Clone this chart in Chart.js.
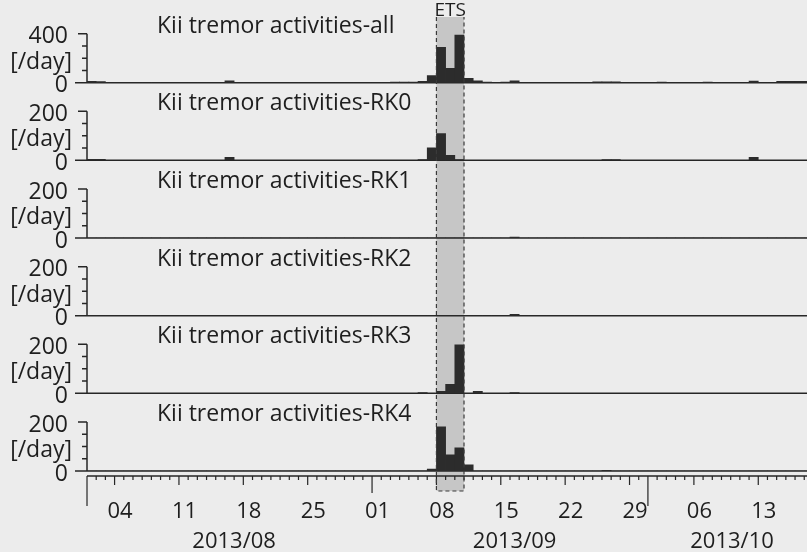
<!DOCTYPE html>
<html>
<head>
<meta charset="utf-8">
<title>Kii tremor activities</title>
<script src="https://cdn.jsdelivr.net/npm/chart.js@4.4.1/dist/chart.umd.min.js"></script>
<style>
  html, body { margin: 0; padding: 0; background: #ececec; }
  #wrap { width: 807px; height: 552px; }
</style>
</head>
<body>
<div id="wrap"><canvas id="tremorChart" width="807" height="552"></canvas></div>
<script>
// Daily tremor counts per region, index 0 = 2013-08-01
const panelTitles = [
  'Kii tremor activities-all',
  'Kii tremor activities-RK0',
  'Kii tremor activities-RK1',
  'Kii tremor activities-RK2',
  'Kii tremor activities-RK3',
  'Kii tremor activities-RK4'
];
const panelTops = [400, 200, 200, 200, 200, 200];

const countsAll = [
  10, 8, 0, 0, 0, 0, 0, 0, 0, 0, 0, 0, 0, 0, 0, 15, 0, 0, 0, 0,
  0, 0, 0, 0, 0, 0, 0, 0, 0, 0, 0, 0, 0, 4, 4, 5, 10, 57, 288, 117,
  389, 35, 15, 5, 0, 5, 14, 0, 0, 0, 0, 0, 0, 0, 0, 6, 6, 6, 0, 0,
  0, 0, 5, 0, 0, 0, 0, 5, 0, 0, 0, 0, 12, 0, 0, 10, 10, 10, 10
];
const countsRK0 = [
  4, 4, 0, 0, 0, 0, 0, 0, 0, 0, 0, 0, 0, 0, 0, 12, 0, 0, 0, 0,
  0, 0, 0, 0, 0, 0, 0, 0, 0, 0, 0, 0, 0, 0, 0, 0, 3, 51, 109, 20,
  3, 0, 0, 0, 0, 0, 0, 0, 0, 0, 0, 0, 0, 0, 0, 0, 3, 3, 0, 0,
  0, 0, 0, 0, 0, 0, 0, 0, 0, 0, 0, 0, 12, 0, 0, 0, 0, 0, 0
];
const countsRK1 = [
  0, 0, 0, 0, 0, 0, 0, 0, 0, 0, 0, 0, 0, 0, 0, 0, 0, 0, 0, 0,
  0, 0, 0, 0, 0, 0, 0, 0, 0, 0, 0, 0, 0, 0, 0, 0, 0, 0, 0, 0,
  0, 0, 0, 0, 0, 0, 4, 0, 0, 0, 0, 0, 0, 0, 0, 0, 0, 0, 0, 0,
  0, 0, 0, 0, 0, 0, 0, 0, 0, 0, 0, 0, 0, 0, 0, 0, 0, 0, 0
];
const countsRK2 = [
  0, 0, 0, 0, 0, 0, 0, 0, 0, 0, 0, 0, 0, 0, 0, 0, 0, 0, 0, 0,
  0, 0, 0, 0, 0, 0, 0, 0, 0, 0, 0, 0, 0, 0, 0, 0, 0, 0, 0, 0,
  0, 0, 0, 0, 0, 0, 5, 0, 0, 0, 0, 0, 0, 0, 0, 0, 0, 0, 0, 0,
  0, 0, 0, 0, 0, 0, 0, 0, 0, 0, 0, 0, 0, 0, 0, 0, 0, 0, 0
];
const countsRK3 = [
  0, 0, 0, 0, 0, 0, 0, 0, 0, 0, 0, 0, 0, 0, 0, 0, 0, 0, 0, 0,
  0, 0, 0, 0, 0, 0, 0, 0, 0, 0, 0, 0, 0, 0, 0, 0, 3, 0, 8, 37,
  198, 0, 8, 0, 0, 0, 3, 0, 0, 0, 0, 0, 0, 0, 0, 0, 0, 0, 0, 0,
  0, 0, 0, 0, 0, 0, 0, 0, 0, 0, 0, 0, 0, 0, 0, 0, 0, 0, 0
];
const countsRK4 = [
  0, 0, 0, 0, 0, 0, 0, 0, 0, 0, 0, 0, 0, 0, 0, 0, 0, 0, 0, 0,
  0, 0, 0, 0, 0, 0, 0, 0, 0, 0, 0, 0, 0, 0, 0, 0, 0, 8, 180, 66,
  95, 25, 0, 0, 0, 0, 0, 0, 0, 0, 0, 0, 0, 0, 0, 0, 3, 0, 0, 0,
  0, 0, 0, 0, 0, 0, 0, 0, 0, 0, 0, 0, 0, 0, 0, 0, 0, 0, 0
];
const panelSeries = [countsAll, countsRK0, countsRK1, countsRK2, countsRK3, countsRK4];

// x axis: Sundays get a day-of-month label, months get a long tick
const weekTickDays = [3, 10, 17, 24, 31, 38, 45, 52, 59, 66, 73];
const weekTickLabels = ['04', '11', '18', '25', '01', '08', '15', '22', '29', '06', '13'];
const monthStartDays = [0, 31, 61];
const monthLabels = ['2013/08', '2013/09', '2013/10'];
const etsDays = [38, 41];

const X_MAX = 78.3;
const PANEL_AREA = 466;          // height of the six stacked panels
const PANEL_H = PANEL_AREA / 6;
const TICK_SPAN = 49;            // px from 0 to the top tick of a panel

const PAPER = '#ececec';
const SHADE = '#c6c6c6';
const INK = '#1e1e1e';
const BAR = '#2c2c2c';
const FONT = "'Open Sans', sans-serif";

Chart.defaults.font.family = FONT;
Chart.defaults.color = INK;

function noPadding(s) {
  s.paddingTop = 0;
  s.paddingBottom = 0;
  s.paddingLeft = 0;
  s.paddingRight = 0;
}

const scales = {
  x: {
    type: 'linear',
    position: 'bottom',
    offset: false,
    min: 0,
    max: X_MAX,
    grid: { display: false, offset: false },
    border: { display: false },
    afterBuildTicks: s => { s.ticks = weekTickDays.map(d => ({ value: d + 0.6 })); },
    ticks: {
      autoSkip: false,
      maxRotation: 0,
      padding: 20,
      font: { size: 22 },
      color: INK,
      callback: (v, i) => weekTickLabels[i]
    },
    afterFit: s => {
      s.height = 552 - 5 - PANEL_AREA;
      noPadding(s);
    }
  }
};

// left boxes are stacked last-to-first, so add the bottom panel first
for (let i = panelTops.length - 1; i >= 0; i--) {
  const top = panelTops[i];
  scales['y' + i] = {
    type: 'linear',
    position: 'left',
    stack: 'panels',
    stackWeight: 1,
    min: 0,
    max: top * PANEL_H / TICK_SPAN,
    grid: { display: false },
    border: { display: false },
    afterBuildTicks: s => { s.ticks = [0, 1, 2, 3, 4].map(k => ({ value: top * k / 4 })); },
    ticks: {
      autoSkip: false,
      padding: 11,
      labelOffset: 3,
      font: { size: 23 },
      color: INK,
      callback: v => (v === 0 || v === top) ? String(v) : ''
    },
    afterFit: s => {
      s.width = 87;
      noPadding(s);
    }
  };
}

function yScales(chart) {
  return panelTops.map((t, i) => chart.scales['y' + i]);
}

const panelDecor = {
  id: 'panelDecor',
  beforeDraw(chart) {
    const { ctx, width, height } = chart;
    const x = chart.scales.x;
    ctx.save();
    ctx.fillStyle = PAPER;
    ctx.fillRect(0, 0, width, height);
    // ETS window
    const x0 = x.getPixelForValue(etsDays[0]);
    const x1 = x.getPixelForValue(etsDays[1]);
    ctx.fillStyle = SHADE;
    ctx.fillRect(x0, 17, x1 - x0, 474);
    ctx.restore();
  },
  beforeDatasetsDraw(chart) {
    const { ctx, chartArea } = chart;
    const x = chart.scales.x;
    const left = chartArea.left;
    ctx.save();
    ctx.strokeStyle = '#262626';
    ctx.lineWidth = 1.5;

    yScales(chart).forEach((ys, i) => {
      const top = panelTops[i];
      const y0 = ys.getPixelForValue(0);
      const yTop = ys.getPixelForValue(top);
      ctx.beginPath();
      // baseline
      ctx.moveTo(left - 12, y0);
      ctx.lineTo(chartArea.right, y0);
      // vertical axis
      ctx.moveTo(left, y0);
      ctx.lineTo(left, yTop);
      for (let k = 1; k <= 4; k++) {
        const yy = ys.getPixelForValue(top * k / 4);
        const len = k === 4 ? 9 : 5;
        ctx.moveTo(left - len, yy);
        ctx.lineTo(left, yy);
      }
      ctx.stroke();
    });

    // time axis just under the last panel
    const axisY = chartArea.bottom + 5;
    ctx.beginPath();
    ctx.moveTo(left, axisY);
    ctx.lineTo(chartArea.right, axisY);
    ctx.stroke();

    ctx.lineWidth = 1.2;
    ctx.beginPath();
    for (let d = 0; d <= Math.floor(X_MAX); d++) {
      const px = x.getPixelForValue(d);
      const isWeek = weekTickDays.includes(d);
      const isMonth = monthStartDays.includes(d);
      let len = 4;
      if (isMonth && isWeek) len = 17;
      else if (isMonth) len = 30;
      else if (isWeek) len = 9;
      ctx.moveTo(px, axisY);
      ctx.lineTo(px, axisY + len);
    }
    ctx.stroke();
    ctx.restore();
  },
  afterDatasetsDraw(chart) {
    const { ctx } = chart;
    const x = chart.scales.x;
    const x0 = x.getPixelForValue(etsDays[0]);
    const x1 = x.getPixelForValue(etsDays[1]);
    ctx.save();
    ctx.strokeStyle = '#3a3a3a';
    ctx.lineWidth = 1.2;
    ctx.setLineDash([4, 3]);
    ctx.beginPath();
    ctx.moveTo(x0, 17);
    ctx.lineTo(x0, 491);
    ctx.lineTo(x1, 491);
    ctx.lineTo(x1, 17);
    ctx.stroke();
    ctx.restore();
  },
  afterDraw(chart) {
    const { ctx } = chart;
    const x = chart.scales.x;
    ctx.save();
    ctx.fillStyle = INK;
    ctx.textBaseline = 'alphabetic';

    yScales(chart).forEach((ys, i) => {
      ctx.font = '23px ' + FONT;
      ctx.textAlign = 'left';
      ctx.fillText(panelTitles[i], 157, ys.top + 27.5);
      ctx.textAlign = 'right';
      ctx.fillText('[/day]', 72, ys.getPixelForValue(0) - 14);
    });

    // ETS label over the shaded window
    const x0 = x.getPixelForValue(etsDays[0]);
    const x1 = x.getPixelForValue(etsDays[1]);
    ctx.font = '19px ' + FONT;
    ctx.textAlign = 'center';
    ctx.fillText('ETS', (x0 + x1) / 2, 16);

    // month names under the day labels
    ctx.font = '22px ' + FONT;
    monthLabels.forEach((label, i) => {
      const start = monthStartDays[i];
      const end = Math.min(i + 1 < monthStartDays.length ? monthStartDays[i + 1] : X_MAX, X_MAX);
      ctx.fillText(label, x.getPixelForValue((start + end) / 2 + 0.5), 548);
    });
    ctx.restore();
  }
};

new Chart(document.getElementById('tremorChart'), {
  type: 'bar',
  data: {
    datasets: panelSeries.map((vals, i) => ({
      label: panelTitles[i],
      data: vals.map((v, d) => ({ x: d + 0.5, y: v })),
      xAxisID: 'x',
      yAxisID: 'y' + i,
      backgroundColor: BAR,
      borderWidth: 0,
      barPercentage: 1,
      categoryPercentage: 1,
      grouped: false
    }))
  },
  options: {
    responsive: false,
    animation: false,
    events: [],
    layout: { padding: { top: 5, right: 0, bottom: 0, left: 0 } },
    scales,
    plugins: {
      legend: { display: false },
      tooltip: { enabled: false }
    }
  },
  plugins: [panelDecor]
});
</script>
</body>
</html>
